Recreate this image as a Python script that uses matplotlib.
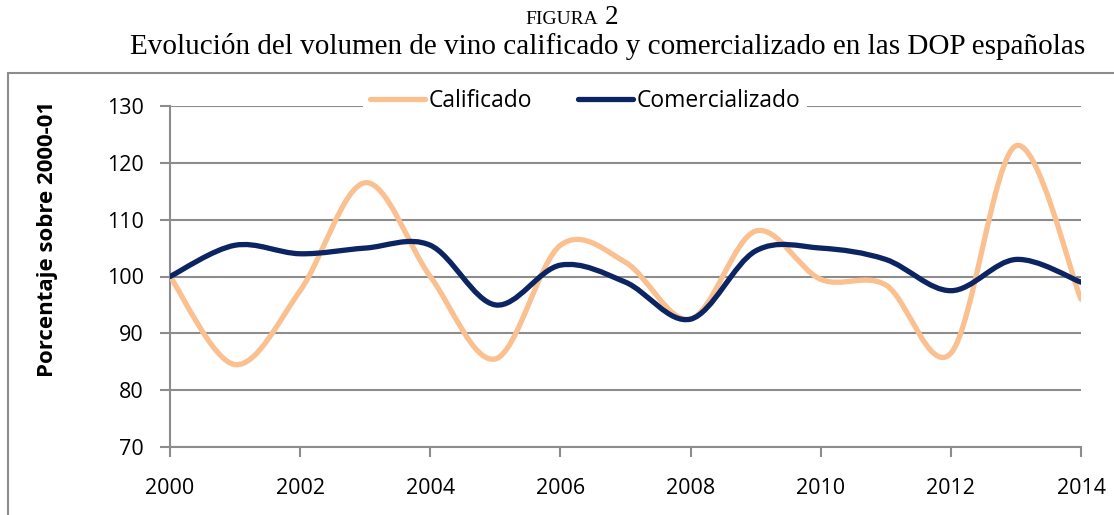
import numpy as np
import matplotlib.pyplot as plt
from matplotlib.path import Path
from matplotlib.patches import PathPatch, Rectangle
from matplotlib.lines import Line2D

# -----------------------------
# DATA (porcentaje sobre 2000-01)
# -----------------------------
years = np.arange(2000, 2015)
calificado = [100, 84.5, 97.5, 116.5, 100, 85.5, 105.5, 102.5, 92.5, 108, 99.5, 98.5, 86.5, 123, 96]
comercializado = [100, 105.5, 104, 105, 105.5, 95, 102, 99, 92.5, 104.5, 105, 103, 97.5, 103, 99]
xticks = [2000, 2002, 2004, 2006, 2008, 2010, 2012, 2014]
yticks = [70, 80, 90, 100, 110, 120, 130]

COL_CAL = "#FAC090"
COL_COM = "#0C2461"
GRID = "#8C8C8C"
SANS = ["Open Sans", "DejaVu Sans"]
SERIF = ["Liberation Serif", "DejaVu Serif"]


def smooth_path(x, y):
    # Excel-style smoothed line: Catmull-Rom segments as cubic Bezier curves
    pts = np.column_stack([x, y]).astype(float)
    ext = np.vstack([pts[0], pts, pts[-1]])
    verts = [pts[0]]
    codes = [Path.MOVETO]
    for i in range(len(pts) - 1):
        p0, p1, p2, p3 = ext[i], ext[i + 1], ext[i + 2], ext[i + 3]
        verts += [p1 + (p2 - p0) / 6, p2 - (p3 - p1) / 6, p2]
        codes += [Path.CURVE4] * 3
    return Path(verts, codes)


fig = plt.figure(figsize=(11.14, 5.15), dpi=100)
ax = fig.add_axes([170 / 1114, 1 - 447 / 515, 911 / 1114, 341 / 515])

# outer chart frame (left and top visible)
fig.patches.append(Rectangle((8 / 1114, -0.1), 1.2, 1 - 73 / 515 + 0.1,
                             transform=fig.transFigure, fill=False,
                             edgecolor=GRID, linewidth=1.5))

for vals, col in [(calificado, COL_CAL), (comercializado, COL_COM)]:
    ax.add_patch(PathPatch(smooth_path(years, vals), facecolor="none",
                           edgecolor=col, linewidth=3.8, capstyle="round",
                           joinstyle="round", zorder=3))

ax.set_xlim(2000, 2014)
ax.set_ylim(70, 130)
ax.set_xticks(xticks)
ax.set_yticks(yticks)
ax.set_xticklabels([str(t) for t in xticks], fontsize=15.5, family=SANS)
ax.set_yticklabels([str(t) for t in yticks], fontsize=15.5, family=SANS)
ax.tick_params(axis="x", length=7, width=1.5, color=GRID, pad=15)
ax.tick_params(axis="y", length=7, width=1.5, color=GRID, pad=12)
ax.grid(axis="y", color=GRID, linewidth=1.5)
ax.set_axisbelow(True)
for s in ["top", "right"]:
    ax.spines[s].set_visible(False)
for s in ["left", "bottom"]:
    ax.spines[s].set_color(GRID)
    ax.spines[s].set_linewidth(1.5)

ax.set_ylabel("Porcentaje sobre 2000-01", fontsize=16, fontweight="bold",
              family=SANS, labelpad=0)
ax.yaxis.set_label_coords(-112 / 911, 0.61)

handles = [Line2D([], [], color=COL_CAL, linewidth=3.8, solid_capstyle="round"),
           Line2D([], [], color=COL_COM, linewidth=3.8, solid_capstyle="round")]
leg = ax.legend(handles, ["Calificado", "Comercializado"], ncol=2,
                loc="center", bbox_to_anchor=((585 - 170) / 911, 1 + 5 / 341),
                frameon=True, facecolor="white", edgecolor="none", framealpha=1,
                prop={"family": SANS, "size": 16.5}, handlelength=2.4,
                handletextpad=0.15, columnspacing=2.0, borderpad=0.3,
                borderaxespad=0)
leg.set_zorder(5)

fig.text(598 / 1114, 1 - 24 / 515, "FIGURA", ha="right", va="baseline",
         fontsize=14, family=SERIF)
fig.text(605 / 1114, 1 - 24 / 515, "2", ha="left", va="baseline",
         fontsize=19.5, family=SERIF)
fig.text(608 / 1114, 1 - 54 / 515,
         "Evolución del volumen de vino calificado y comercializado en las DOP españolas",
         ha="center", va="baseline", fontsize=21, family=SERIF)

fig.savefig("out.png", dpi=100)
